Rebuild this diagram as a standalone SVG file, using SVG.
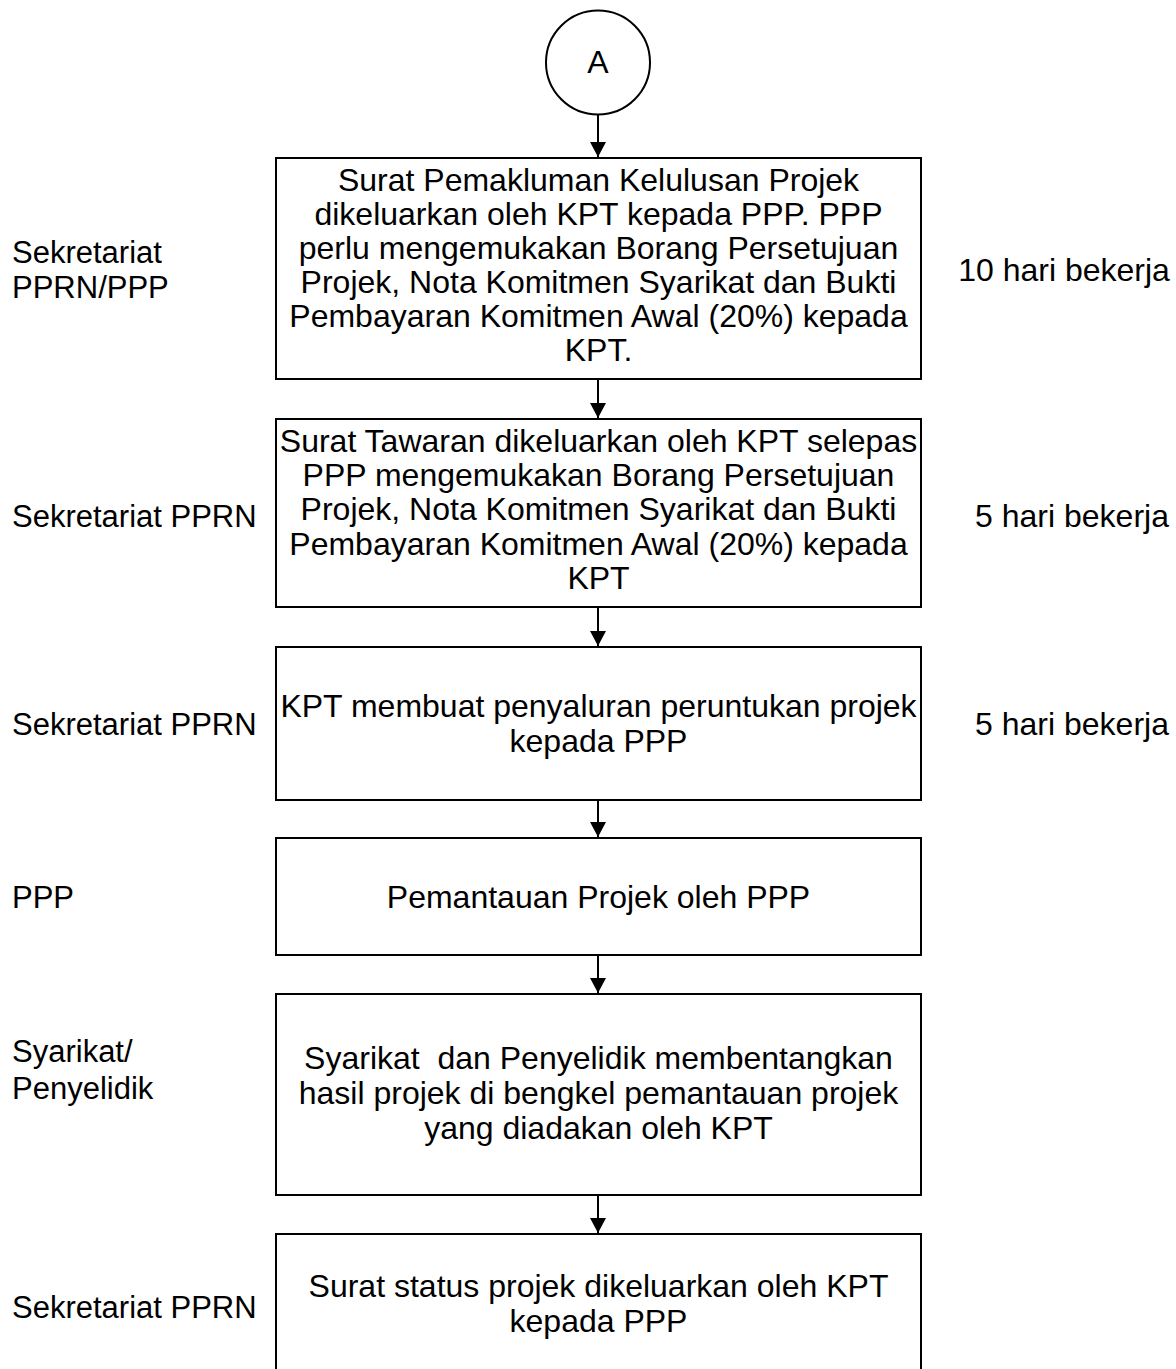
<svg xmlns="http://www.w3.org/2000/svg" width="1176" height="1369" viewBox="0 0 1176 1369">
<style>
.box{fill:#fff;stroke:#000;stroke-width:2}
.t{font-family:"Liberation Sans",Arial,sans-serif;font-size:32px;fill:#000;text-anchor:middle}
.lbl{font-family:"Liberation Sans",Arial,sans-serif;font-size:31px;fill:#000}
.r{text-anchor:middle;font-size:32px}
.c{stroke:#000;stroke-width:2;fill:none}
</style>
<defs>
<marker id="ah" markerWidth="16" markerHeight="16" refX="15" refY="8" orient="auto" markerUnits="userSpaceOnUse">
<path d="M0,0 L15,8 L0,16 Z" fill="#000"/>
</marker>
</defs>
<rect width="1176" height="1369" fill="#fff"/>
<g id="start">
<circle cx="598" cy="62.5" r="52" class="box"/>
<text x="598" y="73" class="t" style="font-size:32px">A</text>
</g>
<g id="connectors">
<line x1="598" y1="115" x2="598" y2="157" class="c" marker-end="url(#ah)"/>
<line x1="598" y1="380" x2="598" y2="418" class="c" marker-end="url(#ah)"/>
<line x1="598" y1="608" x2="598" y2="646" class="c" marker-end="url(#ah)"/>
<line x1="598" y1="800" x2="598" y2="837" class="c" marker-end="url(#ah)"/>
<line x1="598" y1="956" x2="598" y2="993" class="c" marker-end="url(#ah)"/>
<line x1="598" y1="1196" x2="598" y2="1233" class="c" marker-end="url(#ah)"/>
</g>
<g id="step1">
<rect x="276" y="158" width="645" height="221" class="box"/>
<text class="t" x="598.5" y="191">Surat Pemakluman Kelulusan Projek</text>
<text class="t" x="598.5" y="225">dikeluarkan oleh KPT kepada PPP. PPP</text>
<text class="t" x="598.5" y="259">perlu mengemukakan Borang Persetujuan</text>
<text class="t" x="598.5" y="293">Projek, Nota Komitmen Syarikat dan Bukti</text>
<text class="t" x="598.5" y="327">Pembayaran Komitmen Awal (20%) kepada</text>
<text class="t" x="598.5" y="361">KPT.</text>
</g>
<g id="step2">
<rect x="276" y="419" width="645" height="188" class="box"/>
<text class="t" x="598.5" y="452">Surat Tawaran dikeluarkan oleh KPT selepas</text>
<text class="t" x="598.5" y="486">PPP mengemukakan Borang Persetujuan</text>
<text class="t" x="598.5" y="520">Projek, Nota Komitmen Syarikat dan Bukti</text>
<text class="t" x="598.5" y="555">Pembayaran Komitmen Awal (20%) kepada</text>
<text class="t" x="598.5" y="589">KPT</text>
</g>
<g id="step3">
<rect x="276" y="647" width="645" height="153" class="box"/>
<text class="t" x="598.5" y="717">KPT membuat penyaluran peruntukan projek</text>
<text class="t" x="598.5" y="752">kepada PPP</text>
</g>
<g id="step4">
<rect x="276" y="838" width="645" height="117" class="box"/>
<text class="t" x="598.5" y="908">Pemantauan Projek oleh PPP</text>
</g>
<g id="step5">
<rect x="276" y="994" width="645" height="201" class="box"/>
<text class="t" x="598.5" y="1069" xml:space="preserve">Syarikat  dan Penyelidik membentangkan</text>
<text class="t" x="598.5" y="1104">hasil projek di bengkel pemantauan projek</text>
<text class="t" x="598.5" y="1139">yang diadakan oleh KPT</text>
</g>
<g id="step6">
<rect x="276" y="1234" width="645" height="200" class="box"/>
<text class="t" x="598.5" y="1297">Surat status projek dikeluarkan oleh KPT</text>
<text class="t" x="598.5" y="1332">kepada PPP</text>
</g>
<g id="labels">
<text class="lbl" x="12" y="263">Sekretariat</text>
<text class="lbl" x="12" y="298">PPRN/PPP</text>
<text class="lbl r" x="1064" y="281">10 hari bekerja</text>
<text class="lbl" x="12" y="527">Sekretariat PPRN</text>
<text class="lbl r" x="1072" y="527">5 hari bekerja</text>
<text class="lbl" x="12" y="735">Sekretariat PPRN</text>
<text class="lbl r" x="1072" y="735">5 hari bekerja</text>
<text class="lbl" x="12" y="908">PPP</text>
<text class="lbl" x="12" y="1062">Syarikat/</text>
<text class="lbl" x="12" y="1099">Penyelidik</text>
<text class="lbl" x="12" y="1318">Sekretariat PPRN</text>
</g>
</svg>
